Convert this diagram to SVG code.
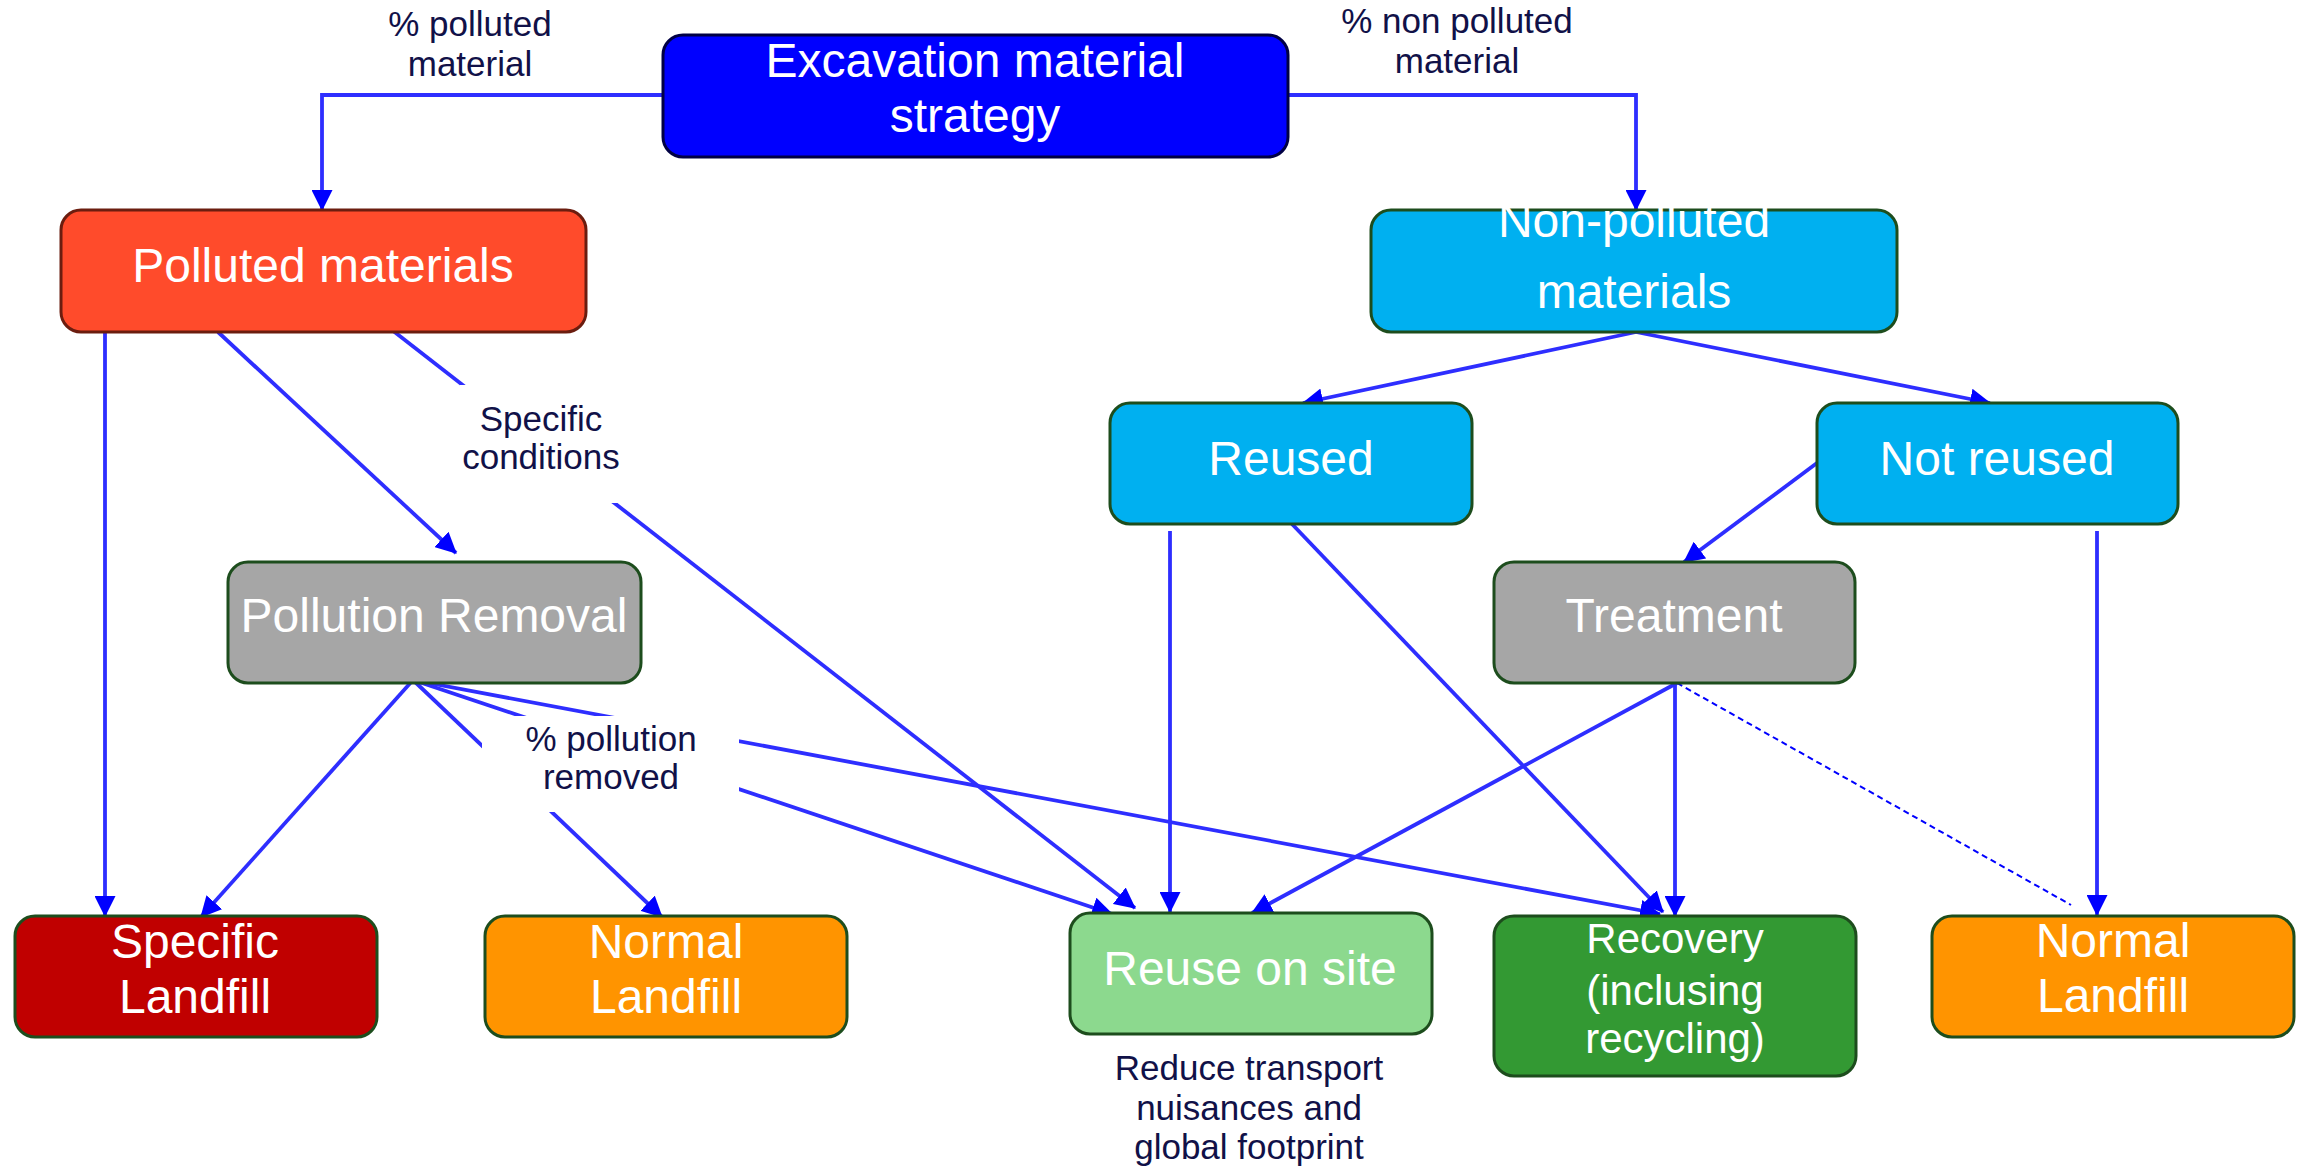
<svg xmlns="http://www.w3.org/2000/svg" width="2305" height="1170" viewBox="0 0 2305 1170">
<defs>
<marker id="ah" viewBox="0 0 20 20" refX="19" refY="10" markerWidth="21" markerHeight="21" markerUnits="userSpaceOnUse" orient="auto"><path d="M0,0 L20,10 L0,20 z" fill="#0000ff"/></marker>
<style>
.n{stroke:#1d4d1d;stroke-width:3}
.t{font-family:"Liberation Sans",Arial,sans-serif;font-size:48px;fill:#ffffff;text-anchor:middle}
.l{font-family:"Liberation Sans",Arial,sans-serif;font-size:35px;fill:#111148;text-anchor:middle}
.c{fill:none;stroke:#2e2eff;stroke-width:3.8}
.a{marker-end:url(#ah)}
.d{fill:none;stroke:#0000ff;stroke-width:2;stroke-dasharray:6 4}
</style>
</defs>
<rect width="2305" height="1170" fill="#ffffff"/>
<g id="connectors">
<path class="c a" d="M663,95 H322 V210"/>
<path class="c a" d="M1288,95 H1636 V210"/>
<path class="c a" d="M1636,332 L1303,403"/>
<path class="c a" d="M1636,332 L1990,403"/>
<path class="c a" d="M1817,463 L1684,562"/>
<path class="c a" d="M105,332 V916"/>
<path class="c a" d="M218,332 L456,553"/>
<path class="c a" d="M392,330 L1135,908"/>
<path class="c a" d="M1170,531 V912"/>
<path class="c a" d="M1677,683 L1252,913"/>
<path class="c a" d="M1292,524 L1663,912"/>
<path class="c a" d="M1675,683 V916"/>
<path class="d" d="M1677,683 L2071,905"/>
<path class="c a" d="M2097,531 V915"/>
<path class="c a" d="M413,680 L201,917"/>
<path class="c a" d="M413,680 L662,917"/>
<path class="c a" d="M413,680 L1112,914"/>
<path class="c a" d="M413,680 L1660,914"/>
<rect x="460" y="385" width="165" height="118" fill="#ffffff"/>
<rect x="482" y="716" width="257" height="96" fill="#ffffff"/>
<text class="l" x="470" y="36">% polluted</text>
<text class="l" x="470" y="76">material</text>
<text class="l" x="1457" y="33">% non polluted</text>
<text class="l" x="1457" y="73">material</text>
<text class="l" x="541" y="431">Specific</text>
<text class="l" x="541" y="469">conditions</text>
<text class="l" x="611" y="751">% pollution</text>
<text class="l" x="611" y="789">removed</text>
</g>
<g id="excavation">
<rect x="663" y="35" width="625" height="122" rx="20" fill="#0000ff" stroke="#000044" stroke-width="3"/>
<text class="t" x="975" y="77">Excavation material</text>
<text class="t" x="975" y="132">strategy</text>
</g>
<g id="polluted">
<rect x="61" y="210" width="525" height="122" rx="20" fill="#ff4b2b" stroke="#6b1d0f" stroke-width="3"/>
<text class="t" x="323" y="282">Polluted materials</text>
</g>
<g id="nonpolluted">
<rect class="n" x="1371" y="210" width="526" height="122" rx="20" fill="#00b0f0"/>
<text class="t" x="1634" y="237">Non-polluted</text>
<text class="t" x="1634" y="308">materials</text>
</g>
<g id="reused">
<rect class="n" x="1110" y="403" width="362" height="121" rx="20" fill="#00b0f0"/>
<text class="t" x="1291" y="475">Reused</text>
</g>
<g id="notreused">
<rect class="n" x="1817" y="403" width="361" height="121" rx="20" fill="#00b0f0"/>
<text class="t" x="1997" y="475">Not reused</text>
</g>
<g id="pollutionremoval">
<rect class="n" x="228" y="562" width="413" height="121" rx="20" fill="#a6a6a6"/>
<text class="t" x="434" y="632">Pollution Removal</text>
</g>
<g id="treatment">
<rect class="n" x="1494" y="562" width="361" height="121" rx="20" fill="#a6a6a6"/>
<text class="t" x="1674" y="632">Treatment</text>
</g>
<g id="specificlandfill">
<rect class="n" x="15" y="916" width="362" height="121" rx="20" fill="#c00000"/>
<text class="t" x="195" y="958">Specific</text>
<text class="t" x="195" y="1013">Landfill</text>
</g>
<g id="normallandfill1">
<rect class="n" x="485" y="916" width="362" height="121" rx="20" fill="#ff9400"/>
<text class="t" x="666" y="958">Normal</text>
<text class="t" x="666" y="1013">Landfill</text>
</g>
<g id="reuseonsite">
<rect class="n" x="1070" y="913" width="362" height="121" rx="20" fill="#8cd98e"/>
<text class="t" x="1250" y="985">Reuse on site</text>
<text class="l" x="1249" y="1080">Reduce transport</text>
<text class="l" x="1249" y="1120">nuisances and</text>
<text class="l" x="1249" y="1159">global footprint</text>
</g>
<g id="recovery">
<rect class="n" x="1494" y="916" width="362" height="160" rx="20" fill="#339933"/>
<text class="t" x="1675" y="953" style="font-size:42px">Recovery</text>
<text class="t" x="1675" y="1005" style="font-size:42px">(inclusing</text>
<text class="t" x="1675" y="1053" style="font-size:42px">recycling)</text>
</g>
<g id="normallandfill2">
<rect class="n" x="1932" y="916" width="362" height="121" rx="20" fill="#ff9400"/>
<text class="t" x="2113" y="957">Normal</text>
<text class="t" x="2113" y="1012">Landfill</text>
</g>
</svg>
